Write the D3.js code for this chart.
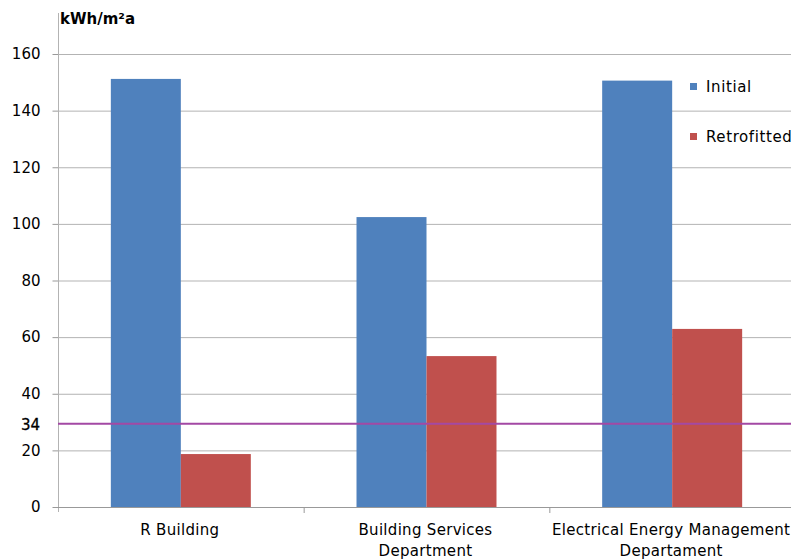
<!DOCTYPE html>
<html><head><meta charset="utf-8">
<script src="https://cdn.jsdelivr.net/npm/d3@7"></script>
<style>body{margin:0;background:#fff}svg{display:block}text{font-family:"DejaVu Sans",Verdana,sans-serif}</style>
</head><body><div id="chart"></div>
<script>
const categories = [["R Building"], ["Building Services", "Department"], ["Electrical Energy Management", "Departament"]];
const seriesNames = ["Initial", "Retrofitted"];
const initialValues = [151.2, 102.4, 150.6];
const retrofittedValues = [18.7, 53.3, 62.9];
const yTicks = [0, 20, 40, 60, 80, 100, 120, 140, 160];
const refLineValue = 29.4;
const refLineLabel = "34";
const unitLabel = "kWh/m²a";
const colors = ["#4F81BD", "#C0504D"];

const W = 791, H = 559;
const svg = d3.select("#chart").append("svg").attr("width", W).attr("height", H);
const x0 = 58, x1 = 795, yBase = 507;
const y = d3.scaleLinear().domain([0, 160]).range([yBase, 54]);
const x = d3.scaleBand().domain(d3.range(categories.length)).range([x0, x1]).paddingInner(0).paddingOuter(0);
const xs = d3.scaleBand().domain(seriesNames).range([0, x.bandwidth()]).paddingInner(0).paddingOuter(0.755);

// gridlines
svg.append("g").selectAll("line").data(yTicks.filter(d => d > 0)).join("line")
  .attr("x1", x0).attr("x2", W).attr("y1", d => y(d) + 0.5).attr("y2", d => y(d) + 0.5)
  .attr("stroke", "#b3b3b3").attr("stroke-width", 1);

// y axis
const yAxis = svg.append("g").attr("transform", `translate(${x0 + 0.5},0)`)
  .call(d3.axisLeft(y).tickValues(yTicks).tickSize(6).tickPadding(12).tickSizeOuter(0));
yAxis.select(".domain").remove();
yAxis.selectAll(".tick line").attr("stroke", "#999");
yAxis.selectAll(".tick text").attr("font-size", 15).attr("fill", "#000").attr("font-family", "DejaVu Sans");
svg.append("line").attr("x1", x0 + 0.5).attr("x2", x0 + 0.5).attr("y1", 13).attr("y2", yBase + 5).attr("stroke", "#b3b3b3");

// bars
const data = categories.map((c, i) => ({i, vals: [initialValues[i], retrofittedValues[i]]}));
const grp = svg.append("g").selectAll("g").data(data).join("g").attr("transform", d => `translate(${x(d.i)},0)`);
grp.selectAll("rect").data(d => d.vals.map((v, k) => ({v, k}))).join("rect")
  .attr("x", d => xs(seriesNames[d.k])).attr("width", xs.bandwidth())
  .attr("y", d => y(d.v)).attr("height", d => yBase - y(d.v))
  .attr("fill", d => colors[d.k]);

// x axis
svg.append("line").attr("x1", x0 - 5).attr("x2", W).attr("y1", yBase + 0.5).attr("y2", yBase + 0.5).attr("stroke", "#999");
const boundaries = d3.range(categories.length).map(i => x(i)).slice(1);
svg.append("g").selectAll("line").data(boundaries).join("line")
  .attr("x1", d => d + 0.5).attr("x2", d => d + 0.5).attr("y1", yBase).attr("y2", yBase + 6).attr("stroke", "#999");
const lab = svg.append("g").selectAll("text").data(categories).join("text")
  .attr("text-anchor", "middle").attr("font-size", 15).attr("letter-spacing", 0.3).attr("fill", "#000")
  .attr("x", (d, i) => x(i) + x.bandwidth() / 2 - 1).attr("y", 535);
lab.selectAll("tspan").data(d => d).join("tspan")
  .attr("x", function() { return this.parentNode.getAttribute("x"); })
  .attr("dy", (d, j) => j === 0 ? 0 : 21).text(d => d);

// reference line
svg.append("line").attr("x1", x0).attr("x2", W).attr("y1", y(refLineValue)).attr("y2", y(refLineValue))
  .attr("stroke", "#A349A4").attr("stroke-width", 2);
svg.append("text").attr("x", 40).attr("y", y(refLineValue) + 6).attr("text-anchor", "end")
  .attr("font-size", 15).attr("fill", "#000").attr("stroke", "#000").attr("stroke-width", 0.3).text(refLineLabel);

// unit label
svg.append("text").attr("x", 60).attr("y", 24).attr("font-size", 15).attr("font-weight", "bold").attr("fill", "#000").text(unitLabel);

// legend
const leg = svg.append("g").selectAll("g").data(seriesNames).join("g")
  .attr("transform", (d, i) => `translate(690,${83 + i * 50})`);
leg.append("rect").attr("width", 7).attr("height", 7).attr("fill", (d, i) => colors[i]);
leg.append("text").attr("x", 16).attr("y", 9).attr("font-size", 15).attr("letter-spacing", 0.6).attr("fill", "#000").text(d => d);
</script></body></html>
